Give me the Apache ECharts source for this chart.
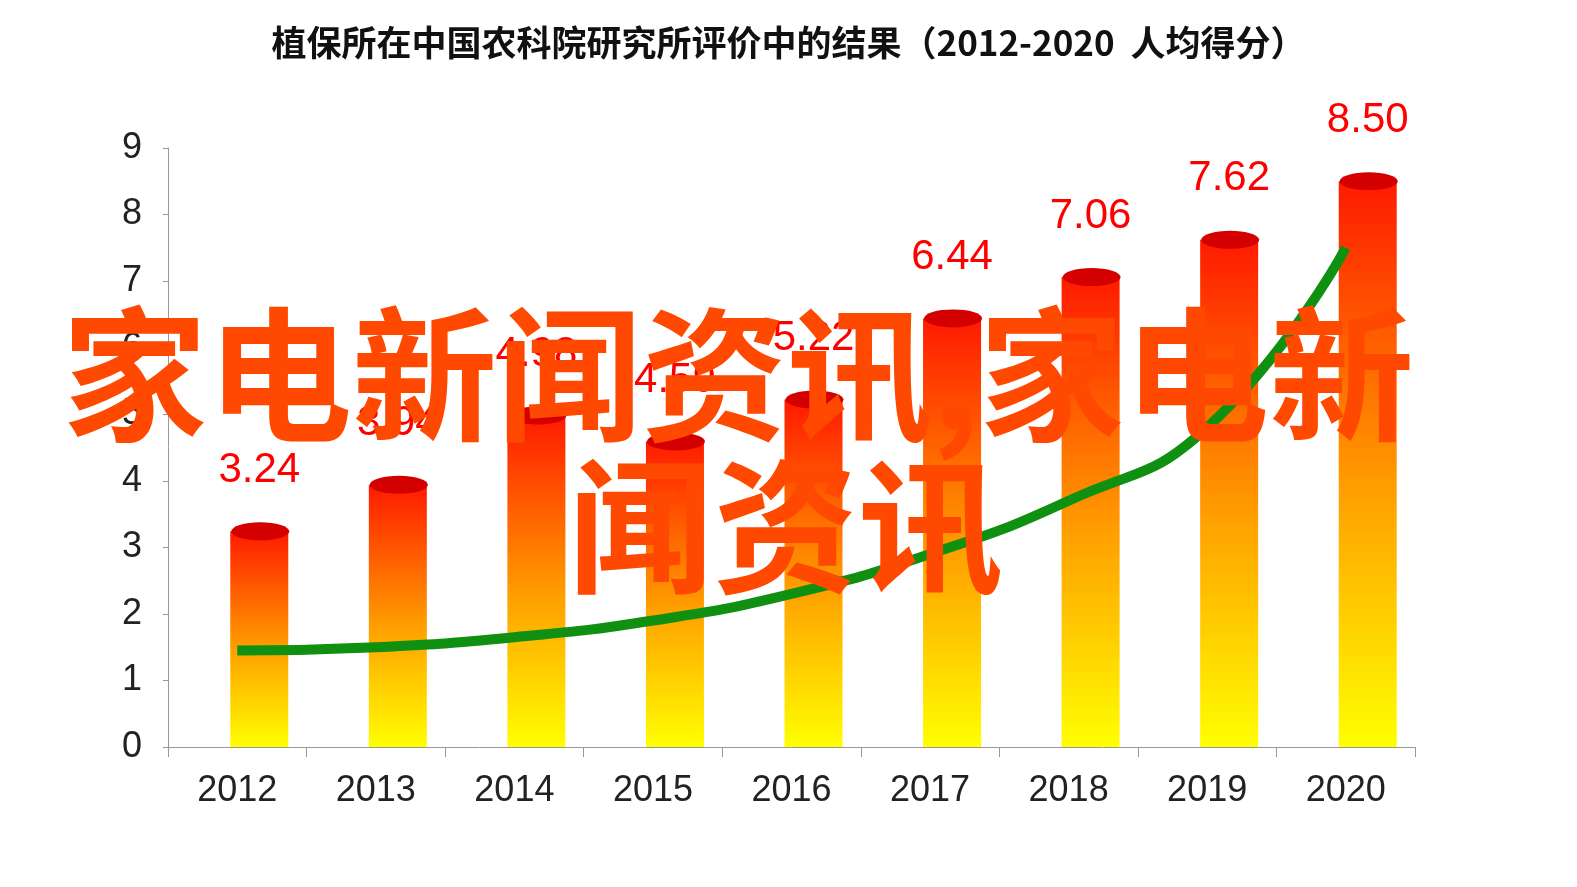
<!DOCTYPE html>
<html>
<head>
<meta charset="utf-8">
<script src="https://cdn.jsdelivr.net/npm/echarts@6/dist/echarts.min.js"></script>
<style>html,body{margin:0;background:#fff}#main{width:1577px;height:887px}</style>
</head>
<body>
<div id="main"></div>
<script>
// 数据
var years = ['2012', '2013', '2014', '2015', '2016', '2017', '2018', '2019', '2020'];
var scores = [3.24, 3.94, 4.98, 4.59, 5.22, 6.44, 7.06, 7.62, 8.50];
// 趋势箭头（估计值）
var trend = [1.45, 1.5, 1.65, 1.9, 2.3, 2.9, 3.7, 4.8, 7.5];

var myChart = echarts.init(document.getElementById('main'));
var barColor = new echarts.graphic.LinearGradient(0, 0, 0, 1, [
  { offset: 0, color: '#ff1a00' },
  { offset: 0.55, color: '#ffa000' },
  { offset: 1, color: '#ffff00' }
]);
var option = {
  title: {
    text: '植保所在中国农科院研究所评价中的结果（2012-2020  人均得分）',
    left: 'center', top: 20,
    textStyle: { fontSize: 35, fontWeight: 'bold', color: '#111', fontFamily: 'Noto Sans CJK SC' }
  },
  grid: { left: 168, right: 162, top: 148, bottom: 140 },
  xAxis: {
    type: 'category', data: years,
    axisLine: { lineStyle: { color: '#999' } },
    axisTick: { show: true, length: 10, lineStyle: { color: '#999' } },
    axisLabel: { fontSize: 36, color: '#222', margin: 26, fontFamily: 'Liberation Sans' }
  },
  yAxis: {
    type: 'value', min: 0, max: 9, interval: 1,
    splitLine: { show: false },
    axisLine: { show: true, lineStyle: { color: '#999' } },
    axisTick: { show: true, lineStyle: { color: '#999' } },
    axisLabel: { fontSize: 36, color: '#222', margin: 26, fontFamily: 'Liberation Sans' }
  },
  series: [{
    type: 'bar', data: scores.map(function () { return 0; }), barWidth: 40,
    itemStyle: { color: 'transparent' }, silent: true
  }, {
    type: 'bar', data: scores, barWidth: 58, barGap: '10%',
    itemStyle: { color: barColor },
    label: {
      show: true, position: 'top', distance: 40, formatter: function (p) { return p.value.toFixed(2); },
      fontSize: 42, color: '#ff0000', fontFamily: 'Liberation Sans'
    },
    z: 2
  }, {
    type: 'pictorialBar', data: scores, symbol: 'circle', symbolSize: [58, 18],
    symbolPosition: 'end', symbolOffset: [23, '-50%'],
    itemStyle: { color: '#d40000' }, z: 3
  }, {
    type: 'line', data: trend, smooth: true, symbol: 'none',
    lineStyle: { color: '#109010', width: 10 }, z: 4
  }],
  graphic: [{
    type: 'text', left: 62, top: 302, z: 100,
    style: { text: '家电新闻资讯,家电新', fontSize: 145, fontWeight: 'bold', fill: '#ff4800', fontFamily: 'Noto Sans CJK SC' }
  }, {
    type: 'text', left: 568, top: 454, z: 100,
    style: { text: '闻资讯', fontSize: 145, fontWeight: 'bold', fill: '#ff4800', fontFamily: 'Noto Sans CJK SC' }
  }]
};
myChart.setOption(option);
</script>
</body>
</html>
